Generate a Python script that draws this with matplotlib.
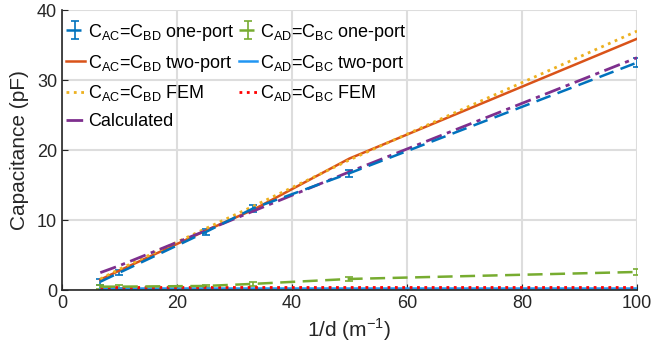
import numpy as np
import matplotlib
matplotlib.use('Agg')
import matplotlib.pyplot as plt

plt.rcParams['font.family'] = ['Liberation Sans', 'DejaVu Sans']
plt.rcParams['mathtext.fontset'] = 'custom'
plt.rcParams['mathtext.rm'] = 'Liberation Sans'

# Data
# ----------------------------------------------------------------------------------------------
inv_d = [6.67, 10, 25, 33.3, 50, 100]  # 1/d [m^-1]

ac_oneport = [1.2, 2.5, 8.3, 11.7, 16.7, 32.5]
ac_oneport_err = [0.4, 0.4, 0.4, 0.5, 0.5, 0.6]
ad_oneport = [0.5, 0.5, 0.6, 0.9, 1.6, 2.6]
ad_oneport_err = [0.3, 0.2, 0.2, 0.3, 0.3, 0.4]

ac_twoport = [1.5, 2.8, 8.5, 11.5, 18.8, 35.9]
ad_twoport = [0.3, 0.3, 0.3, 0.3, 0.3, 0.3]

ac_fem = [1.6, 3.0, 8.8, 12.0, 18.6, 37.0]
ad_fem = [0.5, 0.5, 0.5, 0.5, 0.5, 0.5]

calc = [2.5, 3.5, 8.5, 11.3, 16.9, 33.2]

c_blue = '#0072BD'
c_orange = '#D95319'
c_yellow = '#EDB120'
c_purple = '#7E2F8E'
c_green = '#77AC30'
c_lblue = '#2196F3'
c_red = '#FF0000'

fig = plt.figure(figsize=(6.52, 3.6), dpi=100)
ax = fig.add_axes([0.095, 0.194, 0.882, 0.778])

lab_ac = r'C$_{\mathrm{AC}}$=C$_{\mathrm{BD}}$'
lab_ad = r'C$_{\mathrm{AD}}$=C$_{\mathrm{BC}}$'

h_ac1 = ax.errorbar(inv_d, ac_oneport, yerr=ac_oneport_err, color=c_blue, linestyle=(0, (6, 3)),
                    linewidth=1.8, elinewidth=1.2, capsize=3, capthick=1.2,
                    label=lab_ac + ' one-port')
h_ad1 = ax.errorbar(inv_d, ad_oneport, yerr=ad_oneport_err, color=c_green, linestyle=(0, (6, 3)),
                    linewidth=1.8, elinewidth=1.2, capsize=3, capthick=1.2,
                    label=lab_ad + ' one-port')
h_ac2, = ax.plot(inv_d, ac_twoport, color=c_orange, linewidth=1.8, label=lab_ac + ' two-port')
h_ad2, = ax.plot(inv_d, ad_twoport, color=c_lblue, linewidth=1.8, label=lab_ad + ' two-port')
h_acf, = ax.plot(inv_d, ac_fem, color=c_yellow, linestyle=':', linewidth=2, label=lab_ac + ' FEM')
h_adf, = ax.plot(inv_d, ad_fem, color=c_red, linestyle=':', linewidth=2, label=lab_ad + ' FEM')
h_calc, = ax.plot(inv_d, calc, color=c_purple, linestyle=(0, (6, 2, 1.5, 2)), linewidth=2,
                  label='Calculated')

ax.set_xlim(0, 100)
ax.set_ylim(0, 40)
ax.set_xticks(np.arange(0, 101, 20))
ax.set_yticks(np.arange(0, 41, 10))
ax.grid(True, color='#dddddd', linewidth=1.5)
ax.set_axisbelow(True)
for s in ['top', 'right']:
    ax.spines[s].set_visible(False)
for s in ['left', 'bottom']:
    ax.spines[s].set_color('#262626')
    ax.spines[s].set_linewidth(1.2)
ax.tick_params(direction='in', labelsize=13, colors='#262626', length=4)
ax.set_xlabel(r'1/d (m$^{-1}$)', fontsize=15, color='#262626', labelpad=3)
ax.set_ylabel('Capacitance (pF)', fontsize=15, color='#262626', labelpad=6)

# legend: two columns, filled column by column
hs = [h_ac1, h_ac2, h_acf, h_calc, h_ad1, h_ad2, h_adf]
ax.legend(hs, [h.get_label() for h in hs], ncol=2, loc='upper left',
          bbox_to_anchor=(0.0, 0.975), frameon=False, fontsize=13, handlelength=1.0,
          handletextpad=0.2, columnspacing=0.2, labelspacing=0.55,
          borderaxespad=0.05, borderpad=0.2)

plt.savefig('out.png', dpi=100)
